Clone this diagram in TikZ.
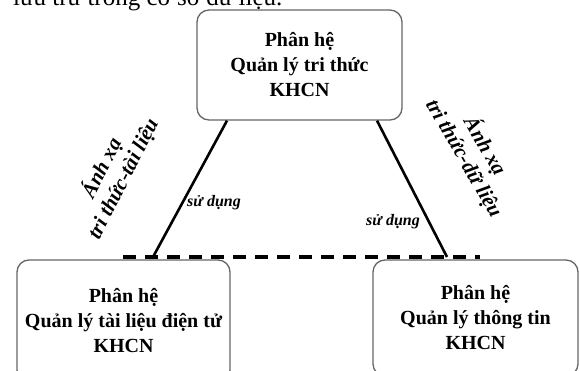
\documentclass[tikz,border=0pt]{standalone}
\usepackage{fontspec}
\setmainfont{Liberation Serif}
\usetikzlibrary{calc}
\begin{document}
\begin{tikzpicture}[x=1pt,y=-1pt,
  box/.style={draw=black!60, line width=1.3pt, rounded corners=12pt, align=center,
    font=\fontsize{20}{25}\selectfont\bfseries, inner sep=0pt},
  conn/.style={line width=2.6pt, black},
  dashln/.style={line width=3.5pt, black, dash pattern=on 13pt off 9pt},
  maplbl/.style={align=center, font=\fontsize{21}{24}\selectfont\bfseries\itshape},
  uselbl/.style={font=\fontsize{16}{18}\selectfont\bfseries\itshape, inner sep=0pt}]
\useasboundingbox (0,0) rectangle (580,371);
\clip (0,0) rectangle (580,371);
% cut-off line of running text
\node[anchor=base west, inner sep=0pt, font=\fontsize{25}{28}\selectfont] (txt) at (13,6) {lưu trữ trong cơ sở dữ liệu.};
% boxes
\node[box, minimum width=205pt, minimum height=110pt] (top) at (299.5,65) {Phân hệ\\Quản lý tri thức\\KHCN};
\node[box, minimum width=213pt, minimum height=122pt] (left) at (123.5,321) {Phân hệ\\Quản lý tài liệu điện tử\\KHCN};
\node[box, minimum width=205pt, minimum height=116pt] (right) at (475.5,318) {Phân hệ\\Quản lý thông tin\\KHCN};
% dashed line and ends
\coordinate (dl) at (123,257);
\coordinate (dr) at (480,257);
\coordinate (la) at (153,257);
\coordinate (ra) at (447,257);
\draw[dashln] (dl) -- (dr);
\draw[conn] ([xshift=-72.5pt]top.south) -- (la);
\draw[conn] ([xshift=77.5pt]top.south) -- (ra);
% labels
\node[uselbl] (u1) at (214,203) {sử dụng};
\node[uselbl] (u2) at (393,222) {sử dụng};
\node[maplbl, rotate=63] (m1) at (112,173) {Ánh xạ\\tri thức-tài liệu};
\node[maplbl, rotate=-60] (m2) at (475,152) {Ánh xạ\\tri thức-dữ liệu};
\end{tikzpicture}
\end{document}
